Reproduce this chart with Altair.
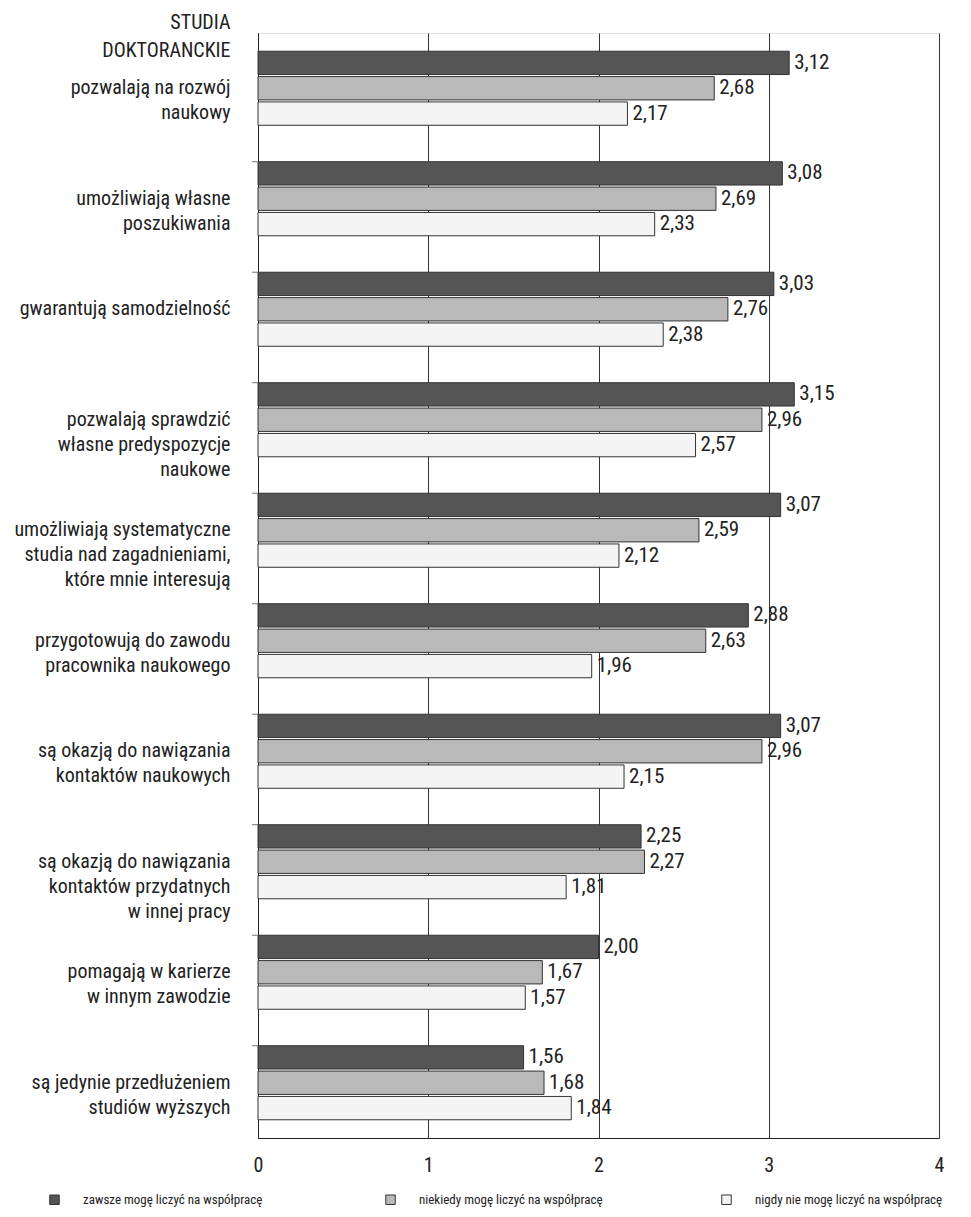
import altair as alt
import pandas as pd

FONT = "Liberation Sans Narrow, Roboto Condensed, DejaVu Sans Condensed, Liberation Sans, sans-serif"

categories = [
    "pozwalają na rozwój|naukowy",
    "umożliwiają własne|poszukiwania",
    "gwarantują samodzielność",
    "pozwalają sprawdzić|własne predyspozycje|naukowe",
    "umożliwiają systematyczne|studia nad zagadnieniami,|które mnie interesują",
    "przygotowują do zawodu|pracownika naukowego",
    "są okazją do nawiązania|kontaktów naukowych",
    "są okazją do nawiązania|kontaktów przydatnych|w innej pracy",
    "pomagają w karierze|w innym zawodzie",
    "są jedynie przedłużeniem|studiów wyższych",
]
series = [
    "zawsze mogę liczyć na współpracę",
    "niekiedy mogę liczyć na współpracę",
    "nigdy nie mogę liczyć na współpracę",
]
zawsze = [3.12, 3.08, 3.03, 3.15, 3.07, 2.88, 3.07, 2.25, 2.00, 1.56]
niekiedy = [2.68, 2.69, 2.76, 2.96, 2.59, 2.63, 2.96, 2.27, 1.67, 1.68]
nigdy = [2.17, 2.33, 2.38, 2.57, 2.12, 1.96, 2.15, 1.81, 1.57, 1.84]
x_ticks = [0, 1, 2, 3, 4]
colors = ["#555555", "#b9b9b9", "#f4f4f4"]

rows = []
for i, c in enumerate(categories):
    for s, vals in zip(series, [zawsze, niekiedy, nigdy]):
        rows.append({"cat": c, "series": s, "v": vals[i]})
df = pd.DataFrame(rows)
tick_df = pd.DataFrame({"cat": categories[1:]})

y_axis = alt.Axis(
    title=["STUDIA", "DOKTORANCKIE"],
    titleAngle=0, titleAlign="right", titleBaseline="top",
    titleX=-28, titleY=-21, titleFontSize=20, titleFontWeight="normal",
    titleFont=FONT, titleColor="#222", titleLineHeight=28,
    labelExpr="split(datum.label, '|')",
    labelFont=FONT, labelFontSize=20, labelColor="#222", labelLineHeight=25,
    labelPadding=28, labelLimit=0, ticks=False, domain=True,
    domainColor="#222", grid=False,
)
y_scale = alt.Scale(domain=categories, paddingInner=0.33, paddingOuter=0.165)
y_enc = alt.Y("cat:N", scale=y_scale, axis=y_axis)
yoff = alt.YOffset("series:N", scale=alt.Scale(domain=series, paddingInner=0.08))
x_enc = alt.X(
    "v:Q",
    scale=alt.Scale(domain=[0, 4], nice=False),
    axis=alt.Axis(
        title=None, values=x_ticks, grid=True, gridColor="#333", gridOpacity=1,
        ticks=False, labelFont=FONT, labelFontSize=20, labelColor="#222",
        labelPadding=17, domainColor="#222", labelFlush=False,
    ),
)

bars = alt.Chart(df).mark_bar(stroke="#333", strokeWidth=1).encode(
    y=y_enc,
    yOffset=yoff,
    x=x_enc,
    color=alt.Color(
        "series:N",
        scale=alt.Scale(domain=series, range=colors),
        legend=alt.Legend(
            title=None, orient="none", legendX=-210, legendY=1160,
            direction="horizontal", symbolType="square", symbolSize=90,
            symbolStrokeColor="#333", symbolStrokeWidth=1,
            labelFont=FONT, labelFontSize=13, labelColor="#222",
            labelOffset=22, columnPadding=112, gridAlign="all", labelLimit=0,
        ),
    ),
)

labels = alt.Chart(df).transform_calculate(
    lbl="replace(format(datum.v, '.2f'), '.', ',')"
).mark_text(
    align="left", baseline="middle", dx=5, fontSize=21, font=FONT, color="#222"
).encode(y=y_enc, yOffset=yoff, x=x_enc, text="lbl:N")

ticks = alt.Chart(tick_df).mark_rule(color="#777", strokeWidth=1).encode(
    y=alt.Y("cat:N", scale=y_scale, axis=y_axis, bandPosition=0),
    x=alt.value(-6),
    x2=alt.value(0),
)

chart = alt.layer(bars, labels, ticks).properties(
    width=681,
    height=1105,
    autosize=alt.AutoSizeParams(type="none"),
    padding={"left": 250, "top": 25, "right": 24, "bottom": 71},
).configure_view(stroke="#222", strokeWidth=1).configure(background="white")

chart.save("out.html", embed_options={"renderer": "svg", "actions": False})
